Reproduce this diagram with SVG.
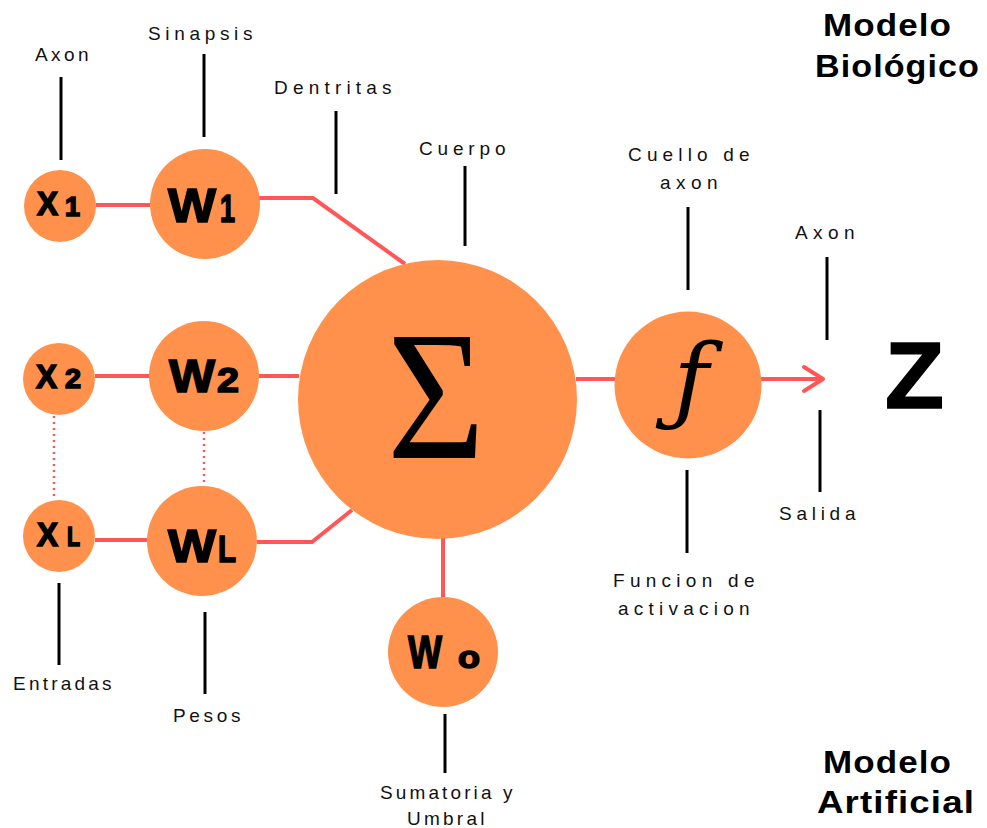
<svg xmlns="http://www.w3.org/2000/svg" width="987" height="828" viewBox="0 0 987 828">
<style>
.node{fill:#FF914D}
.conn{stroke:#FF5757;stroke-width:4;fill:none}
.dot{stroke:#FF5757;stroke-width:2.5;fill:none;stroke-dasharray:2 4}
.tick{stroke:#000;stroke-width:3}
.lbl{font-family:"Liberation Sans",Arial,sans-serif;font-size:19px;fill:#111;letter-spacing:2.5px}
.big{font-family:"Liberation Sans",Arial,sans-serif;font-weight:bold;fill:#000;stroke:#000;stroke-width:1.6}
.title{font-family:"Liberation Sans",Arial,sans-serif;font-weight:bold;font-size:32px;fill:#000;letter-spacing:1px}
</style>
<rect width="987" height="828" fill="#fff"/>
<g id="connectors">
<line class="conn" x1="96" y1="205" x2="150" y2="205"/>
<polyline class="conn" points="259,198 313,198 405,264"/>
<line class="conn" x1="95" y1="376" x2="150" y2="376"/>
<line class="conn" x1="259" y1="376" x2="299" y2="376"/>
<line class="conn" x1="95" y1="540" x2="148" y2="540"/>
<polyline class="conn" points="257,542 312,542 352,510"/>
<line class="conn" x1="443" y1="538" x2="443" y2="598"/>
<line class="conn" x1="576" y1="379" x2="616" y2="379"/>
<line class="conn" x1="761" y1="379" x2="821" y2="379"/>
<polyline class="conn" points="804,367 823,379 804,391" stroke-linecap="round" stroke-linejoin="round"/>
<line class="dot" x1="54" y1="416" x2="54" y2="500"/>
<line class="dot" x1="204" y1="432" x2="204" y2="487"/>
</g>
<g id="ticks">
<line class="tick" x1="61" y1="77" x2="61" y2="160"/>
<line class="tick" x1="204" y1="54" x2="204" y2="137"/>
<line class="tick" x1="336" y1="111" x2="336" y2="194"/>
<line class="tick" x1="465" y1="166" x2="465" y2="246"/>
<line class="tick" x1="688" y1="207" x2="688" y2="290"/>
<line class="tick" x1="827" y1="257" x2="827" y2="340"/>
<line class="tick" x1="820" y1="410" x2="820" y2="492"/>
<line class="tick" x1="687" y1="470" x2="687" y2="553"/>
<line class="tick" x1="59" y1="583" x2="59" y2="665"/>
<line class="tick" x1="205" y1="612" x2="205" y2="694"/>
<line class="tick" x1="445" y1="714" x2="445" y2="773"/>
</g>
<g id="x1"><circle class="node" cx="60" cy="206" r="36"/><text class="big" x="37" y="215" font-size="33" textLength="21" lengthAdjust="spacingAndGlyphs">X</text><text class="big" x="65" y="216" font-size="27" textLength="15" lengthAdjust="spacingAndGlyphs">1</text></g>
<g id="x2"><circle class="node" cx="59" cy="379" r="36"/><text class="big" x="36" y="388" font-size="34" textLength="21" lengthAdjust="spacingAndGlyphs">X</text><text class="big" x="65" y="388" font-size="27" textLength="16" lengthAdjust="spacingAndGlyphs">2</text></g>
<g id="xl"><circle class="node" cx="59" cy="536" r="36"/><text class="big" x="37" y="546" font-size="34" textLength="21" lengthAdjust="spacingAndGlyphs">X</text><text class="big" x="67" y="546" font-size="27" textLength="13" lengthAdjust="spacingAndGlyphs">L</text></g>
<g id="w1"><circle class="node" cx="205" cy="204" r="55"/><text class="big" x="168" y="222" font-size="48" textLength="48" lengthAdjust="spacingAndGlyphs">W</text><text class="big" x="220" y="222" font-size="38" textLength="15" lengthAdjust="spacingAndGlyphs">1</text></g>
<g id="w2"><circle class="node" cx="204" cy="376" r="55"/><text class="big" x="169" y="392" font-size="46" textLength="46" lengthAdjust="spacingAndGlyphs">W</text><text class="big" x="217" y="392" font-size="35" textLength="22" lengthAdjust="spacingAndGlyphs">2</text></g>
<g id="wl"><circle class="node" cx="202" cy="541" r="55"/><text class="big" x="168" y="562" font-size="46" textLength="48" lengthAdjust="spacingAndGlyphs">W</text><text class="big" x="218" y="562" font-size="36" textLength="18" lengthAdjust="spacingAndGlyphs">L</text></g>
<g id="w0"><circle class="node" cx="443" cy="652" r="55"/><text class="big" x="408" y="668" font-size="47" textLength="34" lengthAdjust="spacingAndGlyphs">W</text><text class="big" x="458" y="668" font-size="31" textLength="22" lengthAdjust="spacingAndGlyphs">o</text></g>
<g id="sum"><circle class="node" cx="437.5" cy="399.5" r="139.5"/><text x="387" y="458" font-family="'Liberation Serif','Times New Roman',serif" font-size="185" fill="#000" textLength="98" lengthAdjust="spacingAndGlyphs">Σ</text></g>
<g id="f"><circle class="node" cx="688" cy="385" r="73.5"/><text x="691" y="412" text-anchor="middle" font-family="'DejaVu Serif','Liberation Serif',serif" font-style="italic" font-size="96" fill="#000">ƒ</text></g>
<g id="z"><text class="big" x="885" y="408" font-size="94" stroke-width="3" textLength="59" lengthAdjust="spacingAndGlyphs">Z</text></g>
<g id="labels">
<text class="lbl" x="35" y="61" textLength="56" lengthAdjust="spacing">Axon</text>
<text class="lbl" x="148" y="40" textLength="107" lengthAdjust="spacing">Sinapsis</text>
<text class="lbl" x="274" y="94" textLength="120" lengthAdjust="spacing">Dentritas</text>
<text class="lbl" x="419" y="155" textLength="89" lengthAdjust="spacing">Cuerpo</text>
<text class="lbl" x="628" y="161" textLength="124" lengthAdjust="spacing">Cuello de</text>
<text class="lbl" x="660" y="189" textLength="60" lengthAdjust="spacing">axon</text>
<text class="lbl" x="795" y="239" textLength="62" lengthAdjust="spacing">Axon</text>
<text class="lbl" x="779" y="520" textLength="79" lengthAdjust="spacing">Salida</text>
<text class="lbl" x="613" y="587" textLength="144" lengthAdjust="spacing">Funcion de</text>
<text class="lbl" x="618" y="615" textLength="134" lengthAdjust="spacing">activacion</text>
<text class="lbl" x="13" y="690" textLength="101" lengthAdjust="spacing">Entradas</text>
<text class="lbl" x="173" y="722" textLength="70" lengthAdjust="spacing">Pesos</text>
<text class="lbl" x="380" y="799" textLength="135" lengthAdjust="spacing">Sumatoria y</text>
<text class="lbl" x="407" y="825" textLength="80" lengthAdjust="spacing">Umbral</text>
<text class="title" x="823" y="36" textLength="129" lengthAdjust="spacingAndGlyphs">Modelo</text>
<text class="title" x="815" y="77" textLength="165" lengthAdjust="spacingAndGlyphs">Biológico</text>
<text class="title" x="823" y="773" textLength="129" lengthAdjust="spacingAndGlyphs">Modelo</text>
<text class="title" x="817" y="813" textLength="158" lengthAdjust="spacingAndGlyphs">Artificial</text>
</g>
</svg>
